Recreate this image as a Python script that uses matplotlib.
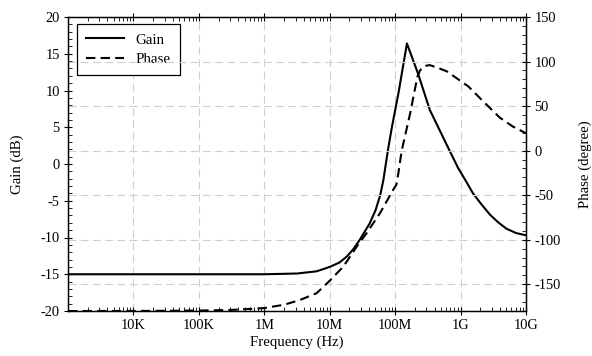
import numpy as np
import matplotlib; matplotlib.use("Agg")
import matplotlib.pyplot as plt
from matplotlib.ticker import FixedLocator, MultipleLocator, LogLocator, NullFormatter

plt.rcParams["font.family"] = ["Liberation Serif", "DejaVu Serif"]
plt.rcParams["axes.unicode_minus"] = False

# gain curve (dB) vs log10(frequency)
gain_logf = [3.0, 4.0, 5.0, 6.0, 6.5, 6.8, 7.0, 7.15, 7.26, 7.36, 7.46, 7.61, 7.70,
             7.77, 7.82, 7.89, 7.95, 8.05, 8.18, 8.35, 8.53, 8.68, 8.80, 8.96,
             9.10, 9.19, 9.32, 9.45, 9.57, 9.70, 9.85, 10.0]
gain_db = [-15.0, -15.0, -15.0, -15.0, -14.9, -14.6, -14.0, -13.4, -12.6, -11.6,
           -10.3, -8.1, -6.3, -4.3, -2.2, 1.9, 5.0, 9.6, 16.4, 12.3, 7.35, 4.6,
           2.4, -0.5, -2.6, -4.0, -5.5, -6.9, -7.9, -8.8, -9.4, -9.7]

# phase curve (degree) vs log10(frequency)
phase_logf = [3.0, 4.0, 5.0, 5.5, 6.0, 6.3, 6.54, 6.8, 7.0, 7.21, 7.41, 7.56, 7.77,
              7.97, 8.02, 8.05, 8.10, 8.23, 8.34, 8.38, 8.45, 8.53, 8.65, 8.79,
              9.12, 9.35, 9.60, 9.80, 10.0]
phase_deg = [-180, -180, -179.5, -178.8, -176.7, -173, -167.8, -160, -146, -130,
             -108, -93, -70, -44, -38, -25, 0, 42, 83, 90, 95, 96, 93, 89, 72,
             55, 37, 27, 19.5]

xtick_f = [1e4, 1e5, 1e6, 1e7, 1e8, 1e9, 1e10]
xtick_labels = ["10K", "100K", "1M", "10M", "100M", "1G", "10G"]

fig = plt.figure(figsize=(5.92, 3.56), dpi=100)
ax = fig.add_axes([68 / 592, 1 - 311 / 356, 458 / 592, 294 / 356])
ax2 = ax.twinx()

grid_kw = dict(color="#cfcfcf", linestyle=(0, (7, 4)), linewidth=0.8)
for f in xtick_f[:-1]:
    ax.axvline(f, zorder=0, **grid_kw)
for p in range(-150, 151, 50):
    ax2.axhline(p, zorder=0, **grid_kw)

l1, = ax.plot(10 ** np.array(gain_logf), gain_db, color="black", lw=1.5, label="Gain")
l2, = ax2.plot(10 ** np.array(phase_logf), phase_deg, color="black", lw=1.5,
               linestyle=(0, (4.5, 2.5)), label="Phase")

ax.set_xscale("log")
ax.set_xlim(1e3, 1e10)
ax.set_ylim(-20, 20)
ax2.set_ylim(-180, 150)

ax.xaxis.set_major_locator(FixedLocator(xtick_f))
ax.set_xticklabels(xtick_labels)
ax.xaxis.set_minor_locator(LogLocator(base=10, subs=np.arange(2, 10)))
ax.xaxis.set_minor_formatter(NullFormatter())
ax.yaxis.set_major_locator(MultipleLocator(5))
ax.yaxis.set_minor_locator(MultipleLocator(1))
ax2.yaxis.set_major_locator(MultipleLocator(50))
ax2.yaxis.set_minor_locator(MultipleLocator(10))

ax.tick_params(which="major", direction="inout", length=6, width=0.8,
               labelsize=10.4, top=True, right=False, pad=3)
ax.tick_params(which="minor", direction="in", length=3, width=0.6, top=True, right=False)
ax2.tick_params(which="major", direction="inout", length=6, width=0.8, labelsize=10.4, pad=3)
ax2.tick_params(which="minor", direction="in", length=3, width=0.6)

for a in (ax, ax2):
    for s in a.spines.values():
        s.set_linewidth(0.9)

ax.set_xlabel("Frequency (Hz)", fontsize=10.7, labelpad=2)
ax.set_ylabel("Gain (dB)", fontsize=10.7, labelpad=12)
ax2.set_ylabel("Phase (degree)", fontsize=10.7, labelpad=13)

leg = ax.legend([l1, l2], ["Gain", "Phase"], loc="upper left",
                bbox_to_anchor=(9 / 458, 1 - 7 / 294), borderaxespad=0,
                fontsize=10.8, handlelength=2.5, fancybox=False, framealpha=1,
                edgecolor="black", borderpad=0.6, labelspacing=0.4, handletextpad=0.8)
leg.get_frame().set_linewidth(0.9)
leg.set_zorder(5)

fig.savefig("out.png", dpi=100)
